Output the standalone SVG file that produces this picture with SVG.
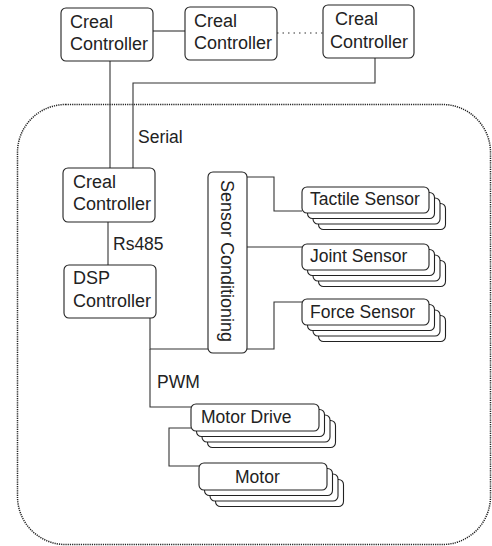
<svg xmlns="http://www.w3.org/2000/svg" width="492" height="546" viewBox="0 0 492 546">
<style>
.box{fill:#fff;stroke:#222;stroke-width:1.1}
.ln{fill:none;stroke:#333;stroke-width:1.1}
.t{font-family:"Liberation Sans",Arial,sans-serif;font-size:18px;fill:#222}
.s{font-family:"Liberation Sans",Arial,sans-serif;font-size:17.5px;fill:#222}
</style>
<defs>
<rect id="sbox" class="box" x="0" y="0" width="127" height="26" rx="5"/>
</defs>
<rect x="17.5" y="104.5" width="473" height="440" rx="48" fill="none" stroke="#222" stroke-width="1.5" stroke-dasharray="1.2 1"/>
<g id="connectors">
<line class="ln" x1="153" y1="31" x2="185" y2="31"/>
<line class="ln" x1="277" y1="33" x2="323" y2="33" stroke-dasharray="1.5 4"/>
<line class="ln" x1="110" y1="61" x2="110" y2="168"/>
<polyline class="ln" points="375,58 375,83 133,83 133,168"/>
<line class="ln" x1="108" y1="222" x2="108" y2="265"/>
<polyline class="ln" points="150,318 150,349 208,349"/>
<polyline class="ln" points="150,349 150,407 191,407"/>
<polyline class="ln" points="247,177 274,177 274,211 302,211"/>
<line class="ln" x1="247" y1="247" x2="302" y2="247"/>
<polyline class="ln" points="247,349 274,349 274,302 302,302"/>
<polyline class="ln" points="191,428 169,428 169,466 199,466"/>
<text class="s" x="138" y="143">Serial</text>
<text class="s" x="113" y="250">Rs485</text>
<text class="s" x="157" y="388">PWM</text>
</g>
<g id="creal1">
<rect class="box" x="61" y="8" width="92" height="53" rx="5"/>
<text class="t" x="70" y="28">Creal</text>
<text class="t" x="70" y="50">Controller</text>
</g>
<g id="creal2">
<rect class="box" x="185" y="7" width="92" height="53" rx="5"/>
<text class="t" x="194" y="27">Creal</text>
<text class="t" x="194" y="49">Controller</text>
</g>
<g id="creal3">
<rect class="box" x="323" y="5" width="91" height="53" rx="5"/>
<text class="t" x="335" y="25">Creal</text>
<text class="t" x="330" y="48">Controller</text>
</g>
<g id="creal-inner">
<rect class="box" x="63" y="168" width="92" height="54" rx="5"/>
<text class="t" x="73" y="188">Creal</text>
<text class="t" x="73" y="210">Controller</text>
</g>
<g id="dsp">
<rect class="box" x="64" y="265" width="92" height="53" rx="5"/>
<text class="t" x="73" y="284">DSP</text>
<text class="t" x="73" y="307">Controller</text>
</g>
<g id="sensor-conditioning">
<rect class="box" x="208" y="172" width="39" height="181" rx="5"/>
<text class="t" transform="translate(221,180) rotate(90)">Sensor Conditioning</text>
</g>
<g id="tactile">
<use href="#sbox" x="318.5" y="203.5"/>
<use href="#sbox" x="313" y="198"/>
<use href="#sbox" x="307.5" y="192.5"/>
<use href="#sbox" x="302" y="187"/>
<text class="s" x="310" y="205">Tactile Sensor</text>
</g>
<g id="joint">
<use href="#sbox" x="318.5" y="260.5"/>
<use href="#sbox" x="313" y="255"/>
<use href="#sbox" x="307.5" y="249.5"/>
<use href="#sbox" x="302" y="244"/>
<text class="s" x="310" y="262">Joint Sensor</text>
</g>
<g id="force">
<use href="#sbox" x="318.5" y="315.5"/>
<use href="#sbox" x="313" y="310"/>
<use href="#sbox" x="307.5" y="304.5"/>
<use href="#sbox" x="302" y="299"/>
<text class="s" x="310" y="318">Force Sensor</text>
</g>
<g id="motor-drive">
<rect class="box" x="207.5" y="420.5" width="128" height="27" rx="5"/>
<rect class="box" x="202" y="415" width="128" height="27" rx="5"/>
<rect class="box" x="196.5" y="409.5" width="128" height="27" rx="5"/>
<rect class="box" x="191" y="404" width="128" height="27" rx="5"/>
<text class="s" x="201" y="423">Motor Drive</text>
</g>
<g id="motor">
<rect class="box" x="215.5" y="479.5" width="128" height="27" rx="5"/>
<rect class="box" x="210" y="474" width="128" height="27" rx="5"/>
<rect class="box" x="204.5" y="468.5" width="128" height="27" rx="5"/>
<rect class="box" x="199" y="463" width="128" height="27" rx="5"/>
<text class="s" x="235" y="483">Motor</text>
</g>
</svg>
